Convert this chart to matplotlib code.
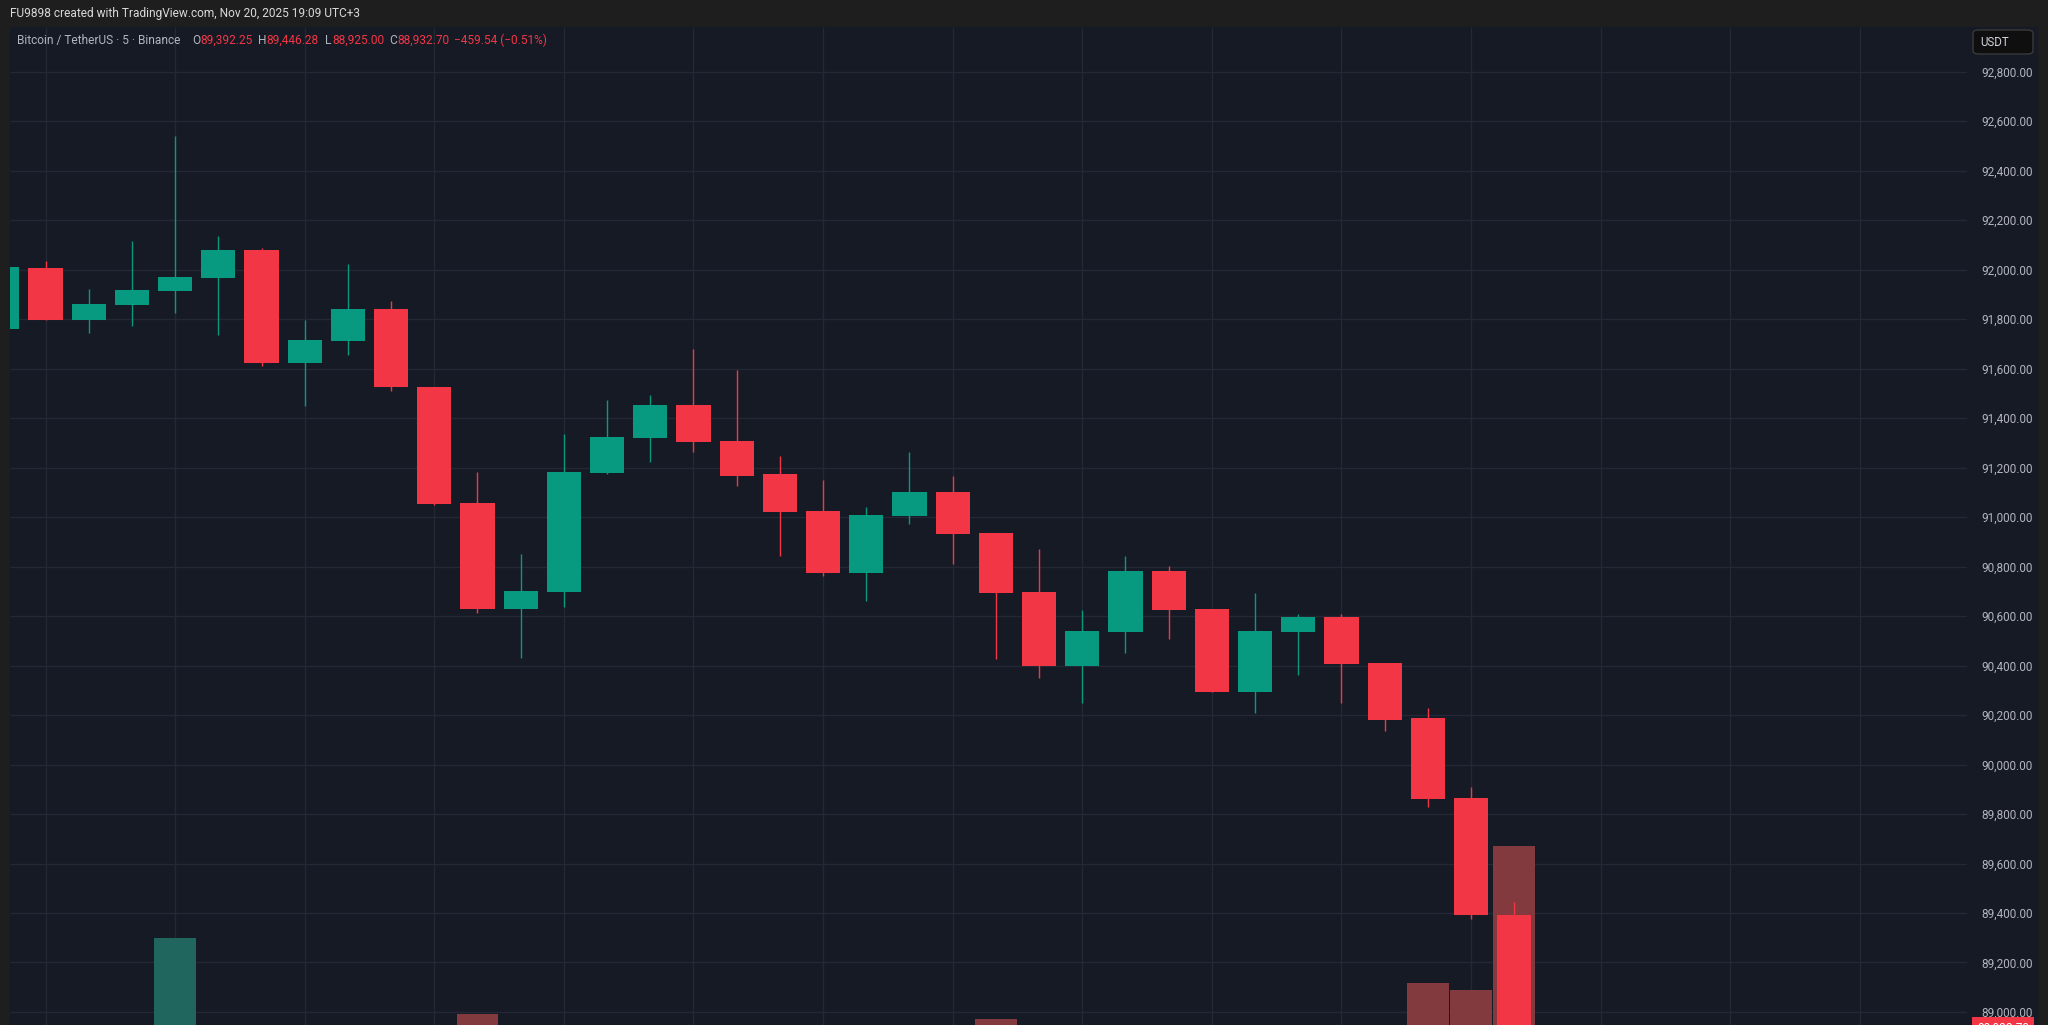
import numpy as np
import matplotlib
matplotlib.use("Agg")
import matplotlib.pyplot as plt
from matplotlib.patches import Rectangle, FancyBboxPatch
from matplotlib.transforms import blended_transform_factory

plt.rcParams['font.family'] = ['Roboto', 'DejaVu Sans']

# 5 minute BTC/USDT candles (Binance)
opens = [91760, 92008, 91797, 91858, 91915, 91965, 92079, 91622, 91713, 91840,
         91527, 91058, 90627, 90699, 91179, 91318, 91452, 91306, 91173, 91026,
         90773, 91006, 91101, 90934, 90697, 90398, 90537, 90782, 90627, 90294,
         90537, 90595, 90410, 90187, 89866, 89392.25]
highs = [92015, 92035, 91922, 92116, 92540, 92136, 92088, 91797, 92023, 91873,
         91527, 91183, 90851, 91336, 91473, 91493, 91679, 91594, 91247, 91150,
         91042, 91262, 91166, 90934, 90872, 90625, 90843, 90802, 90630, 90692,
         90608, 90608, 90410, 90227, 89910, 89446.28]
lows = [91755, 91795, 91744, 91774, 91826, 91736, 91611, 91450, 91655, 91511,
        91049, 90611, 90429, 90638, 91175, 91224, 91264, 91127, 90843, 90763,
        90661, 90972, 90809, 90425, 90349, 90248, 90450, 90507, 90292, 90207,
        90362, 90248, 90136, 89830, 89375, 88925.00]
closes = [92011, 91797, 91862, 91918, 91969, 92079, 91622, 91717, 91840, 91525,
          91054, 90627, 90703, 91183, 91322, 91452, 91302, 91167, 91022, 90773,
          91010, 91101, 90932, 90694, 90398, 90541, 90781, 90623, 90294, 90541,
          90595, 90406, 90180, 89862, 89392, 88932.70]
# volume (BTC) - only the biggest bars reach into the visible part
volumes = [210, 240, 150, 170, 810, 260, 330, 190, 200, 230,
           350, 432, 280, 360, 220, 180, 240, 160, 270, 300,
           250, 180, 200, 405, 340, 260, 230, 170, 310, 270,
           150, 210, 290, 585, 550, 1270]
price_ticks = np.arange(89000, 92801, 200)

# colours
BG = '#161a25'
FRAME = '#1e1e1e'
GRID = '#242835'
UP = '#089981'
DOWN = '#f23645'
UP_VOL = '#21655f'
DOWN_VOL = '#833a3f'
TXT = '#b2b5be'

W, H = 2048, 1025
fig = plt.figure(figsize=(W / 100, H / 100), dpi=100, facecolor=FRAME)

# chart panel background (chart + price scale)
fig.patches.append(Rectangle((10 / W, 0), (2037 - 10) / W, (H - 27) / H,
                             transform=fig.transFigure, color=BG, zorder=-5))

ax = fig.add_axes([10 / W, 0, (1967 - 10) / W, (H - 27) / H])
vax = ax.twinx()
ax.set_zorder(vax.get_zorder() + 1)
ax.patch.set_visible(False)
vax.patch.set_visible(False)

x = np.arange(len(opens))
o = np.array(opens)
c = np.array(closes)
up = c >= o
colors = np.where(up, UP, DOWN)
vcolors = np.where(up, UP_VOL, DOWN_VOL)

# grid lives on the bottom (volume) axes so the bars cover it
vax.vlines(np.arange(1, 46, 3), 0, 1, transform=vax.get_xaxis_transform(),
           color=GRID, lw=1, zorder=0)
tr = blended_transform_factory(vax.transAxes, ax.transData)
vax.hlines(price_ticks, 0, 1, transform=tr, color=GRID, lw=1, zorder=0)

vax.bar(x, volumes, width=0.97, color=vcolors, zorder=2)
vax.set_ylim(375, 5365)

# candles
ax.vlines(x, lows, highs, color=colors, lw=1.0, zorder=2)
ax.bar(x, np.abs(c - o), bottom=np.minimum(o, c), width=0.79, color=colors, zorder=3)

ax.set_xlim(0.178, 45.48)
ax.set_ylim(88947.4, 92980.6)

for a in (ax, vax):
    for s in a.spines.values():
        s.set_visible(False)
    a.set_xticks([])
vax.set_yticks([])

ax.yaxis.tick_right()
ax.set_yticks(price_ticks)
ax.set_yticklabels([f"{p:,.2f}" for p in price_ticks])
ax.tick_params(axis='y', length=0, pad=10, labelsize=8.5, labelcolor=TXT)

# last price tag (mostly below the crop)
ax.text(1.0 + 10 / 1957, closes[-1], f"{closes[-1]:,.2f}", color='white', fontsize=8.5,
        va='center', ha='left', transform=blended_transform_factory(ax.transAxes, ax.transData),
        bbox=dict(boxstyle='square,pad=0.45', fc=DOWN, ec='none'), clip_on=False)

# header
fig.text(10 / W, 1 - 13 / H, "FU9898 created with TradingView.com, Nov 20, 2025 19:09 UTC+3",
         color='#d9d9d9', fontsize=8.6, va='center', ha='left')

# legend line
ly = 1 - 40.5 / H
fig.text(17 / W, ly, "Bitcoin / TetherUS · 5 · Binance", color=TXT, fontsize=8.6, va='center')
pieces = [(192, "O", "89,392.25"), (258, "H", "89,446.28"),
          (324.5, "L", "88,925.00"), (389, "C", "88,932.70")]
for px, lab, val in pieces:
    t = fig.text(px / W, ly, lab, color=TXT, fontsize=8.6, va='center')
    fig.text((px + 8) / W, ly, val, color=DOWN, fontsize=8.6, va='center')
fig.text(454.5 / W, ly, "\u2212459.54 (\u22120.51%)", color=DOWN, fontsize=8.6, va='center')

# currency button
fig.patches.append(FancyBboxPatch((1973 / W, 1 - 54 / H), 60 / W, 24 / H,
                                  boxstyle='round,pad=0,rounding_size=0.003',
                                  transform=fig.transFigure, fc='#0f0f0f', ec='#3a3a3a', lw=1))
fig.text(1980 / W, 1 - 42 / H, "USDT", color='#d1d4dc', fontsize=8.3, va='center', ha='left')

fig.savefig("out.png", dpi=100, facecolor=FRAME)
